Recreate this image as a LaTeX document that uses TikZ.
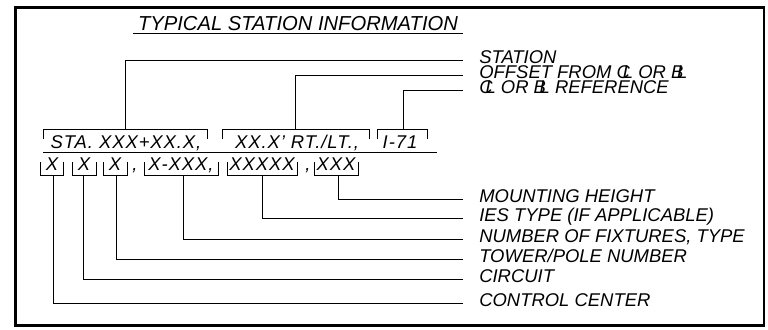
\documentclass[tikz,border=0pt]{standalone}
\usepackage{fontspec}
\setmainfont{Liberation Sans}
\newfontfamily\fldfont{Liberation Sans}[LetterSpace=5]
\usetikzlibrary{calc}
\newcommand{\clsym}{\makebox[0pt][l]{C}\kern0.34em L}
\newcommand{\blsym}{\makebox[0pt][l]{B}\kern0.32em L}

\begin{document}
\begin{tikzpicture}[x=0.02cm,y=-0.02cm,line width=0.55pt,
    every node/.style={font=\fontsize{10.5}{12}\selectfont\itshape},
    lbl/.style={anchor=base west,inner xsep=9pt,inner ysep=0pt},
    fld/.style={anchor=base,inner sep=0pt,font=\fldfont\fontsize{10.5}{12}\selectfont\itshape}]
  \useasboundingbox (0,0) rectangle (768,329);
  \draw[line width=1.7pt] (15.5,7.5) rectangle (764,325);

  \node[anchor=base,inner sep=0pt,font=\fontsize{11.5}{13}\selectfont\itshape] (title) at (298,30) {TYPICAL STATION INFORMATION};
  \draw (133,33) -- (463,33);

  % labels, baseline 3px under their leader
  \node[lbl] (station) at (463,63) {STATION};
  \node[lbl] (offset) at (463,78) {OFFSET FROM \clsym{} OR \blsym};
  \node[lbl] (reference) at (463,93) {\clsym{} OR \blsym{} REFERENCE};
  \node[lbl] (height) at (463,202) {MOUNTING HEIGHT};
  \node[lbl] (ies) at (463,221) {IES TYPE (IF APPLICABLE)};
  \node[lbl] (fixtures) at (463,242) {NUMBER OF FIXTURES, TYPE};
  \node[lbl] (pole) at (463,262) {TOWER/POLE NUMBER};
  \node[lbl] (circuit) at (463,282) {CIRCUIT};
  \node[lbl] (center) at (463,306) {CONTROL CENTER};

  \node[fld] (sta) at (126,148) {STA. XXX+XX.X,};
  \node[fld] (off) at (297,148) {XX.X’ RT./LT.,};
  \node[fld] (ref) at (400,148) {I-71};
  \draw (43,139) |- (207,129) -- (207,139);
  \draw (222,139) |- (369,129) -- (369,139);
  \draw (377,139) |- (427,129) -- (427,139);
  \draw (43,152) -- (437,152);

  \node[fld] (cc) at (52,170) {X};
  \node[fld] (ckt) at (84,170) {X};
  \node[fld] (twr) at (115,170) {X};
  \node[fld] (c1) at (135,170) {,};
  \node[fld] (fix) at (181,170) {X-XXX,};
  \node[fld] (typ) at (262,170) {XXXXX};
  \node[fld] (c2) at (308,170) {,};
  \node[fld] (hgt) at (336,170) {XXX};
  \draw (40,162) |- (63,175) -- (63,162);
  \draw (72,162) |- (96,175) -- (96,162);
  \draw (103,162) |- (127,175) -- (127,162);
  \draw (144,162) |- (218,175) -- (218,162);
  \draw (227,162) |- (297,175) -- (297,162);
  \draw (314,162) |- (358,175) -- (358,162);

  \coordinate (staB) at (125,129);
  \coordinate (offB) at (295,129);
  \coordinate (refB) at (403,129);
  \coordinate (ccB) at (53,175);
  \coordinate (cktB) at (83,175);
  \coordinate (twrB) at (116,175);
  \coordinate (fixB) at (183,175);
  \coordinate (typB) at (262,175);
  \coordinate (hgtB) at (338,175);

  \draw (staB) |- ($(station.base west)+(0,-3)$);
  \draw (offB) |- ($(offset.base west)+(0,-3)$);
  \draw (refB) |- ($(reference.base west)+(0,-3)$);
  \draw (hgtB) |- ($(height.base west)+(0,-3)$);
  \draw (typB) |- ($(ies.base west)+(0,-3)$);
  \draw (fixB) |- ($(fixtures.base west)+(0,-3)$);
  \draw (twrB) |- ($(pole.base west)+(0,-3)$);
  \draw (cktB) |- ($(circuit.base west)+(0,-3)$);
  \draw (ccB) |- ($(center.base west)+(0,-3)$);
\end{tikzpicture}
\end{document}
